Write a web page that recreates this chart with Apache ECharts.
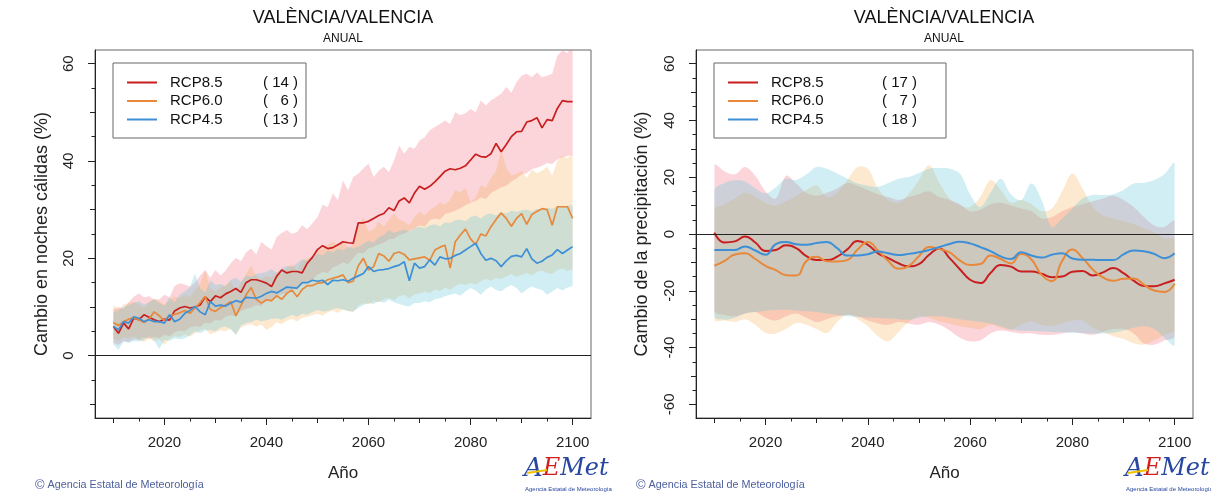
<!DOCTYPE html>
<html>
<head>
<meta charset="utf-8">
<title>VALÈNCIA/VALENCIA - ANUAL</title>
<script src="https://cdn.jsdelivr.net/npm/echarts@6.0.0/dist/echarts.min.js"></script>
<style>
  html, body { margin: 0; padding: 0; background: #fff; }
  #chart { width: 1211px; height: 497px; }
</style>
</head>
<body>
<div id="chart"></div>
<script>
// años (eje x)
const years = [];
for (let y = 2010; y <= 2100; y++) years.push(y);
const years2 = [];
for (let y = 2010; y <= 2100; y += 2) years2.push(y);

const scenarios = ["RCP8.5", "RCP6.0", "RCP4.5"];
const countsNoches = [14, 6, 13];
const countsPrecip = [17, 7, 18];

const xMajor = [2020, 2040, 2060, 2080, 2100];
const xMid = [2010, 2030, 2050, 2070, 2090];
const xMinor = [2015, 2025, 2035, 2045, 2055, 2065, 2075, 2085, 2095];
const yNochesMajor = [0, 20, 40, 60];
const yNochesMid = [-10, 10, 30, 50];
const yNochesMinor = [-5, 5, 15, 25, 35, 45, 55];
const yPrecMajor = [-60, -40, -20, 0, 20, 40, 60];
const yPrecMid = [-50, -30, -10, 10, 30, 50];
const yPrecMinor = [-55, -45, -35, -25, -15, -5, 5, 15, 25, 35, 45, 55];

// noches cálidas (%), 2010-2100
const noches85 = [
  6.0, 4.6, 6.7, 5.5, 7.7, 7.4, 8.4, 7.9, 7.4, 7.0,
  7.5, 7.3, 9.2, 9.8, 10.1, 9.8, 10.0, 10.4, 12.1, 11.1,
  12.3, 11.9, 12.7, 13.2, 13.8, 13.0, 15.0, 15.6, 15.6, 15.3,
  14.9, 14.2, 16.3, 17.6, 17.0, 17.3, 17.3, 17.0, 19.0, 20.2,
  21.8, 22.6, 22.0, 22.2, 22.8, 23.4, 23.2, 23.1, 27.3, 27.3,
  27.6, 28.2, 28.8, 29.2, 30.4, 29.8, 31.8, 32.4, 31.4, 33.4,
  34.8, 34.2, 34.8, 35.7, 36.8, 37.9, 38.4, 38.2, 38.5, 39.0,
  40.2, 41.4, 40.9, 40.8, 41.5, 43.6, 41.9, 43.4, 45.0, 46.0,
  46.1, 48.0, 48.3, 48.9, 46.8, 48.5, 48.3, 50.8, 52.4, 52.2, 52.2
];
const noches85Hi = [
  9.5, 10.0, 9.6, 11.0, 12.1, 12.8, 12.0, 12.2, 11.5, 11.6,
  12.5, 12.0, 14.3, 14.9, 14.6, 14.2, 15.0, 16.5, 17.6, 16.0,
  17.6, 16.5, 17.5, 19.0, 20.1, 19.4, 21.2, 22.0, 20.8, 23.4,
  22.5, 21.8, 24.4, 25.2, 25.8, 25.0, 25.4, 26.8, 26.0, 27.2,
  28.5, 31.0, 30.5, 33.3, 32.0, 36.0, 34.0, 36.7, 37.4, 38.5,
  39.5, 36.7, 38.0, 38.8, 37.7, 40.1, 43.2, 41.5, 42.9, 42.5,
  44.2, 44.9, 46.3, 47.0, 47.6, 48.3, 47.6, 50.0, 49.4, 49.8,
  50.7, 50.0, 52.4, 51.4, 52.5, 53.1, 53.8, 55.2, 54.0, 56.2,
  57.5, 57.9, 57.2, 58.2, 57.2, 57.5, 57.9, 61.6, 62.7, 62.2, 64.0
];
const noches85Lo = [
  2.6, 2.2, 3.0, 2.8, 3.4, 3.3, 3.8, 3.5, 3.9, 3.6,
  4.3, 4.0, 4.8, 5.2, 5.0, 5.8, 6.1, 5.9, 6.8, 6.6,
  7.4, 7.2, 8.0, 8.3, 8.1, 9.2, 9.6, 9.9, 10.4, 10.2,
  11.3, 11.0, 12.2, 12.6, 12.9, 13.8, 13.5, 14.6, 15.2, 15.6,
  16.7, 17.2, 17.0, 18.1, 18.6, 19.2, 18.8, 20.0, 21.2, 21.0,
  22.0, 22.4, 22.9, 23.2, 23.9, 24.0, 24.8, 25.1, 25.6, 26.2,
  26.8, 26.5, 27.8, 28.2, 28.0, 29.1, 29.4, 29.8, 30.3, 30.9,
  31.4, 31.8, 32.5, 32.2, 33.4, 34.0, 34.6, 34.9, 35.8, 36.4,
  37.2, 37.5, 38.3, 38.6, 39.0, 39.6, 39.4, 40.3, 40.8, 41.0, 41.2
];
const noches60 = [
  6.8, 6.2, 7.0, 7.5, 7.8, 7.4, 6.8, 7.6, 9.0, 8.2,
  7.2, 8.2, 8.5, 8.8, 9.3, 8.7, 9.8, 10.9, 12.2, 9.5,
  9.1, 9.9, 10.4, 11.1, 8.2, 10.3, 12.5, 14.0, 11.6, 10.8,
  11.5, 11.3, 12.3, 11.6, 12.8, 13.5, 12.1, 13.6, 14.4, 14.4,
  14.9, 15.0, 15.6, 15.9, 16.2, 16.6, 15.0, 15.3, 18.5, 20.0,
  17.6, 18.3, 21.0, 20.5, 19.4, 21.0, 21.3, 20.8, 19.7, 19.9,
  20.1, 20.3, 19.6, 21.7, 22.3, 22.7, 18.0, 23.4, 24.8, 26.0,
  24.0, 22.8, 25.0, 24.6, 26.5, 28.0, 29.3, 28.2, 26.6, 28.2,
  29.2, 27.0, 29.0, 29.6, 30.2, 30.0, 26.8, 30.6, 30.6, 30.6, 28.2
];
const noches60Hi = [
  10.4, 9.5, 10.5, 10.8, 11.1, 10.5, 9.8, 11.0, 11.8, 11.2,
  10.5, 11.5, 12.2, 11.8, 12.5, 12.0, 13.5, 14.8, 17.6, 13.8,
  13.2, 14.0, 14.5, 15.3, 13.5, 15.0, 16.8, 18.5, 16.2, 15.8,
  16.5, 16.0, 17.2, 16.8, 18.0, 18.8, 17.5, 19.5, 20.0, 20.5,
  21.5, 22.0, 22.8, 23.5, 22.5, 23.8, 22.0, 23.0, 26.5, 28.5,
  25.5, 26.0, 27.5, 26.5, 28.0, 29.2, 28.0, 27.5, 26.8, 28.5,
  29.5, 28.8, 30.0, 30.5, 31.5, 31.0, 32.0, 34.0, 33.5, 34.5,
  31.5, 32.5, 35.0, 34.5, 36.5, 38.0, 42.2, 38.5, 37.0, 37.4,
  38.0, 36.5, 38.2, 37.5, 38.0, 38.8, 37.0, 40.0, 41.2, 40.5, 41.5
];
const noches60Lo = [
  3.6, 3.0, 3.8, 3.5, 4.0, 3.2, 2.8, 3.6, 2.9, 3.4,
  2.2, 3.5, 4.0, 3.8, 4.4, 3.9, 4.6, 5.2, 5.5, 4.4,
  4.8, 5.2, 5.0, 5.6, 4.3, 5.8, 6.2, 6.5, 6.0, 6.4,
  5.3, 5.9, 6.8, 6.5, 7.2, 7.6, 7.0, 7.8, 8.0, 8.3,
  8.6, 8.2, 8.9, 9.3, 8.8, 9.5, 9.2, 9.0, 10.2, 10.8,
  10.5, 11.2, 11.0, 11.6, 11.9, 11.4, 12.2, 12.5, 11.8, 12.6,
  12.8, 13.2, 12.9, 13.6, 13.3, 14.0, 13.5, 14.3, 14.8, 14.5,
  15.0, 14.6, 15.3, 15.8, 15.4, 16.0, 15.7, 16.3, 16.8, 16.2,
  16.6, 17.0, 16.5, 17.2, 17.5, 17.0, 16.8, 17.6, 17.9, 17.4, 17.8
];
const noches45 = [
  6.0, 5.3, 7.0, 6.7, 8.0, 7.7, 7.0, 7.4, 7.0, 7.0,
  6.7, 8.4, 7.0, 7.5, 8.7, 9.3, 10.1, 9.0, 8.4, 11.1,
  10.2, 10.4, 10.2, 10.8, 11.3, 11.0, 12.0, 11.9, 11.8, 12.2,
  12.8, 13.2, 12.9, 13.5, 14.1, 14.0, 13.9, 15.0, 15.0, 15.5,
  15.3, 15.5, 14.6, 15.5, 15.4, 15.6, 15.3, 15.9, 16.4, 16.9,
  18.3, 17.3, 17.6, 17.7, 17.9, 18.3, 18.6, 19.3, 15.4, 19.0,
  18.0, 18.3, 19.7, 18.6, 20.3, 19.9, 20.0, 20.6, 21.0, 21.7,
  22.4, 23.1, 21.0, 19.6, 20.0, 19.5, 18.3, 19.5, 20.4, 20.6,
  20.3, 22.0, 19.9, 19.0, 19.4, 20.2, 20.7, 21.8, 21.0, 21.7, 22.4
];
const noches45Hi = [
  8.8, 9.4, 10.0, 10.4, 10.8, 11.2, 10.5, 11.0, 11.6, 10.8,
  10.2, 12.0, 11.0, 12.5, 13.2, 14.0, 16.9, 13.8, 13.0, 15.5,
  14.5, 14.8, 14.2, 15.6, 16.0, 15.2, 16.5, 16.2, 16.8, 17.0,
  17.2, 17.8, 17.0, 18.0, 18.5, 18.2, 19.0, 19.8, 19.5, 20.4,
  21.0, 20.6, 21.5, 21.2, 22.0, 21.6, 22.4, 22.0, 22.4, 23.0,
  23.6, 23.2, 24.4, 24.8, 25.8, 25.2, 25.6, 26.0, 25.5, 26.2,
  26.5, 26.2, 26.8, 27.0, 26.6, 27.4, 27.2, 27.8, 28.0, 27.6,
  28.5, 28.8, 28.2, 29.0, 29.2, 28.8, 29.5, 29.2, 29.8, 29.5,
  29.9, 30.0, 29.6, 30.2, 30.0, 30.4, 30.2, 30.6, 30.5, 30.8, 30.9
];
const noches45Lo = [
  2.3, 1.2, 2.9, 2.6, 3.0, 2.9, 3.2, 4.0, 3.1, 1.4,
  3.3, 3.0, 3.6, 3.4, 3.6, 4.2, 5.0, 4.6, 5.2, 5.3,
  5.0, 5.8, 6.0, 5.4, 4.3, 6.2, 6.7, 6.9, 7.4, 7.1,
  7.3, 7.6, 7.7, 7.4, 7.9, 8.4, 8.0, 8.6, 8.4, 9.0,
  9.4, 9.1, 9.2, 9.6, 9.8, 9.5, 9.2, 9.1, 9.8, 10.4,
  10.8, 10.6, 11.2, 10.9, 11.5, 11.0, 10.6, 10.3, 10.1, 10.8,
  10.8, 11.2, 11.0, 11.6, 11.8, 12.2, 12.5, 12.8, 12.3, 13.2,
  13.9, 13.4, 12.5, 13.6, 14.2, 13.5, 13.2, 14.0, 14.5, 13.9,
  12.8, 13.6, 14.2, 13.8, 13.5, 12.5, 13.2, 13.9, 13.4, 14.0, 14.3
];

// precipitación (%), 2010-2100 cada 2 años
const prec85 = [
  0.5, -3.0, -2.6, -0.9, -3.0, -6.0, -5.6, -4.0, -5.0, -7.8,
  -9.2, -9.2, -8.0, -5.4, -2.5, -3.8, -6.8, -8.5, -10.3, -11.4,
  -10.6, -7.3, -5.1, -8.5, -12.4, -16.1, -17.3, -13.7, -10.9, -11.5,
  -13.2, -13.2, -14.0, -15.2, -15.0, -13.3, -13.0, -14.6, -13.5, -12.0,
  -13.8, -16.4, -18.3, -18.4, -17.4, -16.1
];
const prec85Hi = [
  24.2, 22.0, 21.0, 23.6, 20.5, 15.0, 12.5, 20.5, 17.8, 14.5,
  13.5, 14.5, 16.0, 18.0, 17.0, 15.5, 14.0, 13.0, 12.0, 13.0,
  14.0, 15.0, 13.0, 12.0, 10.5, 8.0, 8.5, 10.5, 11.0, 10.0,
  9.0, 8.0, 5.5, 6.0, 8.0, 9.5, 10.5, 11.5, 12.5, 13.5,
  12.0, 9.5, 6.0, 3.0, 2.5, 4.5
];
const prec85Lo = [
  -27.0, -28.5, -29.0, -28.0, -27.5, -29.5, -30.5, -29.0, -28.0, -29.5,
  -31.0, -30.0, -29.0, -28.5, -29.0, -30.5, -31.5, -32.0, -31.0, -31.5,
  -32.0, -31.0, -32.0, -34.0, -36.5, -37.8, -37.5, -35.0, -34.0, -34.5,
  -35.0, -35.0, -35.5, -35.5, -35.0, -34.5, -35.0, -35.5, -34.5, -33.5,
  -33.5, -35.0, -38.5, -39.0, -37.5, -36.0
];
const prec60 = [
  -11.2, -9.5, -7.2, -6.8, -8.8, -11.2, -12.7, -14.5, -14.6, -9.5,
  -8.0, -9.6, -9.7, -9.2, -5.5, -2.8, -5.8, -9.5, -12.2, -11.2,
  -7.8, -4.6, -5.3, -6.5, -9.3, -10.9, -10.6, -7.6, -8.8, -10.4,
  -7.0, -9.0, -14.4, -16.6, -9.5, -5.5, -8.5, -12.5, -15.3, -16.5,
  -15.8, -15.7, -17.8, -19.9, -20.4, -17.5
];
const prec60Hi = [
  8.5, 10.5, 12.5, 14.5, 13.0, 11.0, 10.0, 11.5, 13.5, 15.5,
  17.2, 13.0, 14.5, 19.0, 23.6, 23.0, 16.0, 12.0, 11.0, 14.0,
  19.0, 24.2, 18.0, 12.5, 10.0, 9.5, 13.0, 19.0, 15.5, 11.0,
  12.0, 10.5, 8.0, 9.0, 15.0, 21.3, 16.0, 9.5, 6.5, 5.5,
  4.5, 3.5, 2.0, 0.5, -1.5, -2.0
];
const prec60Lo = [
  -30.2, -30.5, -31.0, -30.0, -32.0, -34.9, -35.0, -33.5, -31.3, -32.0,
  -33.5, -34.9, -31.0, -28.4, -30.0, -32.5, -36.0, -37.8, -34.5, -31.0,
  -29.0, -29.5, -30.8, -31.5, -32.5, -33.0, -33.5, -32.0, -33.0, -33.7,
  -32.0, -30.8, -32.0, -32.5, -31.5, -30.5, -30.5, -33.0, -34.5, -36.0,
  -37.0, -38.5, -39.0, -37.5, -35.5, -33.7
];
const prec45 = [
  -5.6, -5.6, -5.6, -4.4, -5.8, -7.3, -3.6, -2.8, -3.6, -3.8,
  -3.2, -2.8, -5.0, -7.6, -7.6, -7.1, -6.2, -6.8, -7.4, -7.0,
  -6.4, -5.6, -4.6, -3.5, -2.7, -3.3, -4.6, -6.0, -7.9, -8.8,
  -6.4, -7.6, -8.3, -7.3, -6.8, -8.6, -9.1, -9.1, -9.2, -9.2,
  -7.2, -5.8, -6.1, -7.0, -8.5, -6.8
];
const prec45Hi = [
  15.4, 18.0, 18.9, 18.5, 16.0, 14.3, 16.5, 19.5, 19.0, 21.0,
  23.6, 23.0, 21.3, 19.5, 17.8, 17.0, 16.6, 18.0, 19.5, 20.1,
  21.5, 23.0, 23.2, 23.0, 21.3, 14.0, 9.5, 14.5, 19.5, 14.0,
  12.0, 17.8, 12.0, 2.5, 5.5, 9.0, 12.5, 13.7, 13.7, 14.0,
  15.5, 17.8, 18.0, 19.0, 21.0, 24.8
];
const prec45Lo = [
  -29.0, -30.2, -29.5, -28.0, -27.5, -27.0, -26.8, -26.7, -27.0, -27.2,
  -27.5, -28.0, -28.5, -29.0, -29.2, -29.4, -29.6, -29.8, -30.0, -30.2,
  -29.5, -29.0, -29.0, -29.5, -30.0, -30.5, -31.0, -31.5, -32.5, -33.7,
  -34.0, -34.2, -34.3, -34.5, -34.6, -34.8, -34.9, -35.0, -35.0, -34.8,
  -34.0, -33.0, -32.5, -33.5, -36.5, -39.0
];

const FONT = "'Liberation Sans', Arial, Helvetica, sans-serif";
const lineColors = ["#c81e1e", "#e8883a", "#3d8fd6"];
const bandColors = ["rgba(238,80,100,0.24)", "rgba(248,168,75,0.26)", "rgba(100,200,215,0.3)"];
const X_MIN = 2006.4, X_MAX = 2103.6;

function pairs(xs, vals) {
  return xs.map((x, i) => [x, vals[i]]);
}

function xAxes(gi) {
  const base = {
    type: "value", gridIndex: gi, position: "bottom", min: X_MIN, max: X_MAX,
    splitLine: { show: false }, axisLine: { show: false, onZero: false }
  };
  return [
    Object.assign({}, base, {
      axisLine: { show: true, onZero: false, lineStyle: { color: "#222" } },
      axisTick: { customValues: xMajor, length: 7, lineStyle: { color: "#222" } },
      axisLabel: {
        customValues: xMajor, margin: 17, fontSize: 15, color: "#222", fontFamily: FONT,
        formatter: v => String(v)
      },
      name: "Año", nameLocation: "middle", nameGap: 47,
      nameTextStyle: { fontSize: 17, color: "#222", fontFamily: FONT }
    }),
    Object.assign({}, base, {
      axisTick: { customValues: xMid, length: 5, lineStyle: { color: "#222" } },
      axisLabel: { show: false }
    }),
    Object.assign({}, base, {
      axisTick: { customValues: xMinor, length: 3.5, lineStyle: { color: "#222" } },
      axisLabel: { show: false }
    })
  ];
}

function yAxes(gi, min, max, major, mid, minor, title, gap) {
  const base = {
    type: "value", gridIndex: gi, position: "left", min: min, max: max,
    splitLine: { show: false }, axisLine: { show: false, onZero: false }
  };
  return [
    Object.assign({}, base, {
      axisLine: { show: true, onZero: false, lineStyle: { color: "#222" } },
      axisTick: { customValues: major, length: 7, lineStyle: { color: "#222" } },
      axisLabel: { customValues: major, rotate: 90, margin: 19, fontSize: 15, color: "#222", fontFamily: FONT },
      name: title, nameLocation: "middle", nameGap: gap,
      nameTextStyle: { fontSize: 18, color: "#222", fontFamily: FONT }
    }),
    Object.assign({}, base, {
      axisTick: { customValues: mid, length: 5, lineStyle: { color: "#222" } },
      axisLabel: { show: false }
    }),
    Object.assign({}, base, {
      axisTick: { customValues: minor, length: 3.5, lineStyle: { color: "#222" } },
      axisLabel: { show: false }
    })
  ];
}

// banda de dispersión: polígono entre lo y hi, pasado por las escalas de los ejes
function band(gi, xs, lo, hi, color, smooth) {
  return {
    type: "custom", xAxisIndex: gi * 3, yAxisIndex: gi * 3,
    silent: true, z: 1,
    data: [[xs[0], lo[0]]],
    renderItem: function (params, api) {
      const top = xs.map((x, i) => api.coord([x, hi[i]]));
      const bottom = xs.map((x, i) => api.coord([x, lo[i]])).reverse();
      const cs = params.coordSys;
      const x0 = api.coord([xs[0], 0])[0];
      const x1 = api.coord([xs[xs.length - 1], 0])[0];
      return {
        type: "polygon",
        shape: {
          points: top.concat(bottom),
          smooth: smooth,
          smoothConstraint: smooth ? [[x0, cs.y - 200], [x1, cs.y + cs.height + 200]] : null
        },
        style: { fill: color },
        clipPath: { type: "rect", shape: { x: cs.x, y: cs.y, width: cs.width, height: cs.height } }
      };
    }
  };
}

function line(gi, xs, vals, name, color, width, smooth, zero) {
  const s = {
    type: "line", name: name, xAxisIndex: gi * 3, yAxisIndex: gi * 3,
    data: pairs(xs, vals), symbol: "none", smooth: smooth, z: 3,
    itemStyle: { color: color },
    lineStyle: { color: color, width: width }
  };
  if (zero) {
    s.markLine = {
      silent: true, symbol: ["none", "none"], label: { show: false },
      lineStyle: { color: "#222", width: 1, type: "solid" },
      data: [{ yAxis: 0 }]
    };
  }
  return s;
}

function legend(left, counts, nameWidth, padRight) {
  return {
    left: left, top: 63, orient: "vertical",
    data: scenarios, selectedMode: false,
    icon: "rect", itemWidth: 30, itemHeight: 2, itemGap: 3.5,
    padding: [12, padRight, 11, 14],
    borderColor: "#666", borderWidth: 1, backgroundColor: "#fff",
    itemStyle: { borderWidth: 0 },
    formatter: function (name) {
      const c = String(counts[scenarios.indexOf(name)]);
      const pad = c.length < 2 ? "   " : " ";
      return "{n|" + name + "}{c|(" + pad + c + " )}";
    },
    textStyle: {
      fontSize: 15, color: "#111", fontFamily: FONT, lineHeight: 15,
      rich: {
        n: { width: nameWidth, padding: [0, 0, 0, 8], fontSize: 15, fontFamily: FONT, lineHeight: 15 },
        c: { fontSize: 15, fontFamily: FONT, lineHeight: 15 }
      }
    }
  };
}

function title(cx) {
  return {
    text: "VALÈNCIA/VALENCIA", subtext: "ANUAL",
    left: cx, top: 9, textAlign: "center", padding: 0, itemGap: 6,
    textStyle: { fontSize: 18, fontWeight: "normal", color: "#111", fontFamily: FONT, lineHeight: 18 },
    subtextStyle: { fontSize: 12, color: "#111", fontFamily: FONT, lineHeight: 12 }
  };
}

function footer(x) {
  return {
    type: "text", left: x, top: 479, silent: true,
    style: {
      text: "{c|©} Agencia Estatal de Meteorología",
      fill: "#4c5f9c", font: "10.8px " + FONT,
      rich: { c: { fontSize: 13, fill: "#4c5f9c", fontFamily: FONT } }
    }
  };
}

function logo(x) {
  return [
    {
      type: "text", left: x, top: 456, silent: true,
      style: {
        text: "{a|A}{e|E}{m|Met}",
        rich: {
          a: { fontSize: 26, fill: "#2747a0", fontFamily: "'DejaVu Serif', serif", fontStyle: "italic" },
          e: { fontSize: 24, fill: "#d11f1f", fontFamily: "'DejaVu Serif', serif", fontStyle: "italic" },
          m: { fontSize: 24, fill: "#2747a0", fontFamily: "'DejaVu Serif', serif", fontStyle: "italic" }
        }
      }
    },
    {
      type: "line", silent: true,
      shape: { x1: x + 3, y1: 473, x2: x + 23, y2: 470 },
      style: { stroke: "#f2c200", lineWidth: 2 }
    },
    {
      type: "text", left: x + 1, top: 486, silent: true,
      style: { text: "Agencia Estatal de Meteorología", fill: "#2747a0", font: "6px " + FONT }
    }
  ];
}

const series = [];
const nochesBands = [[noches85Lo, noches85Hi], [noches60Lo, noches60Hi], [noches45Lo, noches45Hi]];
const nochesLines = [noches85, noches60, noches45];
const precBands = [[prec85Lo, prec85Hi], [prec60Lo, prec60Hi], [prec45Lo, prec45Hi]];
const precLines = [prec85, prec60, prec45];
for (let k = 0; k < 3; k++) {
  series.push(band(0, years, nochesBands[k][0], nochesBands[k][1], bandColors[k], 0));
  series.push(band(1, years2, precBands[k][0], precBands[k][1], bandColors[k], 0.35));
}
for (let k = 0; k < 3; k++) {
  series.push(line(0, years, nochesLines[k], scenarios[k], lineColors[k], 1.7, false, k === 0));
  series.push(line(1, years2, precLines[k], scenarios[k], lineColors[k], 2, 0.5, k === 0));
}

const chart = echarts.init(document.getElementById("chart"), null, { renderer: "canvas" });
chart.setOption({
  animation: false,
  backgroundColor: "#fff",
  textStyle: { fontFamily: FONT },
  title: [title(343), title(944)],
  legend: [legend(113, countsNoches, 93, 8), legend(714, countsPrecip, 111, 29)],
  grid: [
    { left: 95, top: 50, width: 496, height: 368, show: true, borderColor: "#666", borderWidth: 1, backgroundColor: "transparent" },
    { left: 696, top: 50, width: 497, height: 368, show: true, borderColor: "#666", borderWidth: 1, backgroundColor: "transparent" }
  ],
  xAxis: xAxes(0).concat(xAxes(1)),
  yAxis: yAxes(0, -12.8, 62.8, yNochesMajor, yNochesMid, yNochesMinor, "Cambio en noches cálidas (%)", 44)
    .concat(yAxes(1, -64.8, 64.8, yPrecMajor, yPrecMid, yPrecMinor, "Cambio de la precipitación (%)", 45)),
  series: series,
  graphic: [footer(35), footer(636)].concat(logo(524), logo(1125))
});
</script>
</body>
</html>
